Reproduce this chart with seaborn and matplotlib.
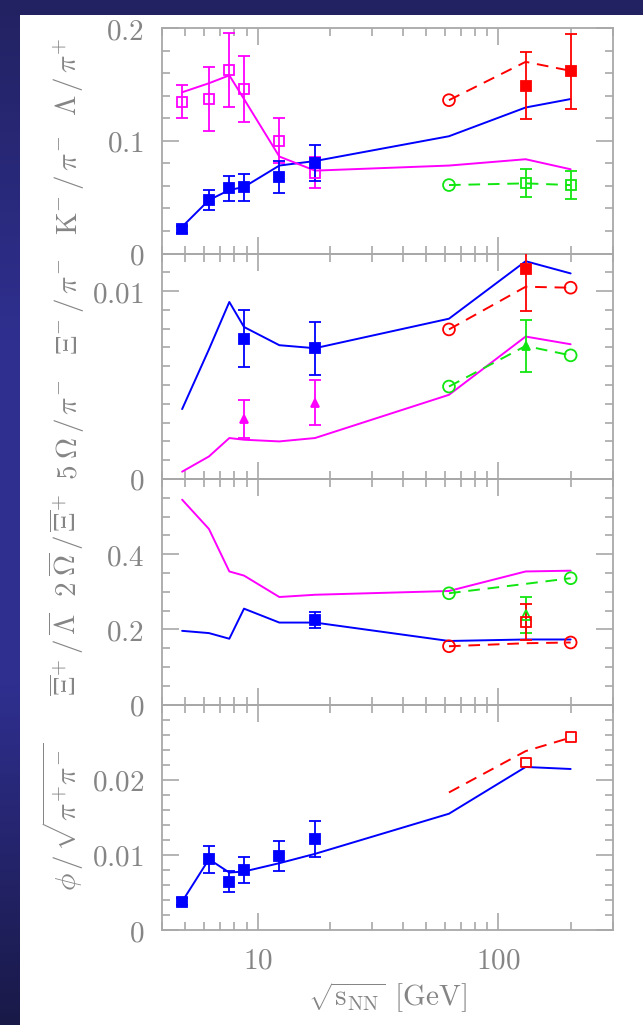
import numpy as np
import matplotlib
matplotlib.use("Agg")
import matplotlib.pyplot as plt
import seaborn as sns
from matplotlib.colors import LinearSegmentedColormap
from matplotlib.patches import Rectangle
from matplotlib.ticker import FixedLocator, FixedFormatter, LogLocator, NullFormatter, MultipleLocator

# ---------------------------------------------------------------- data
sqrt_s = [4.85, 6.27, 7.62, 8.77, 12.3, 17.3, 62.4, 130.0, 200.0]
sps = sqrt_s[:6]
rhic = sqrt_s[6:]

# panel 1: K-/pi- and Lambda/pi+
k_pi_model = [0.0237, 0.0474, 0.0563, 0.0590, 0.0780, 0.0820, 0.1040, 0.1295, 0.1370]
lam_pi_model = [0.1430, 0.1510, 0.1580, 0.1370, 0.0860, 0.0735, 0.0780, 0.0836, 0.0747]
k_pi_sps = [0.0213, 0.0474, 0.0578, 0.0587, 0.0681, 0.0806]
k_pi_sps_err = [0.0030, 0.0090, 0.0110, 0.0120, 0.0140, 0.0160]
lam_pi_sps = [0.1348, 0.1370, 0.1630, 0.1460, 0.0999, 0.0717]
lam_pi_sps_err = [0.0150, 0.0280, 0.0330, 0.0290, 0.0200, 0.0140]
lam_pi_rhic_curve = [0.136, 0.170, 0.162]
lam_pi_rhic = [0.1490, 0.1615]
lam_pi_rhic_err = [0.030, 0.033]
k_pi_rhic_curve = [0.0607, 0.0622, 0.0607]
k_pi_rhic = [0.0622, 0.0607]
k_pi_rhic_err = [0.0125, 0.0128]

# panel 2: Xi-/pi- and 5 Omega/pi-
xi_pi_model = [0.00372, 0.00690, 0.00942, 0.00809, 0.00712, 0.00696, 0.00853, 0.01159, 0.01094]
om_pi_model = [0.00039, 0.00120, 0.00218, 0.00209, 0.00200, 0.00218, 0.00448, 0.00758, 0.00717]
xi_pi_sps_x = [8.77, 17.3]
xi_pi_sps = [0.00747, 0.00696]
xi_pi_sps_err = [0.0015, 0.0014]
om_pi_sps = [0.00319, 0.00407]
om_pi_sps_err = [0.0010, 0.0012]
xi_pi_rhic_curve = [0.00796, 0.01023, 0.01018]
xi_pi_rhic = [0.01115]
xi_pi_rhic_err = [0.0022]
om_pi_rhic_curve = [0.00492, 0.00708, 0.00658]
om_pi_rhic = [0.00708]
om_pi_rhic_err = [0.0014]

# panel 3: anti-Xi/anti-Lambda and 2 anti-Omega/anti-Xi
om_xi_model = [0.545, 0.467, 0.354, 0.343, 0.286, 0.292, 0.302, 0.354, 0.356]
xi_lam_model = [0.196, 0.190, 0.175, 0.255, 0.218, 0.218, 0.169, 0.173, 0.173]
xi_lam_sps_x = [17.3]
xi_lam_sps = [0.224]
xi_lam_sps_err = [0.021]
om_xi_rhic_curve = [0.296, 0.321, 0.336]
om_xi_rhic = [0.237]
om_xi_rhic_err = [0.048]
xi_lam_rhic_curve = [0.155, 0.163, 0.165]
xi_lam_rhic = [0.219]
xi_lam_rhic_err = [0.048]

# panel 4: phi/sqrt(pi+ pi-)
phi_model = [0.00378, 0.00942, 0.00764, 0.00778, 0.00889, 0.01013, 0.01547, 0.02169, 0.02142]
phi_sps = [0.00378, 0.00942, 0.00644, 0.00800, 0.00987, 0.01210]
phi_sps_err = [0.0005, 0.0018, 0.0014, 0.0017, 0.0020, 0.0024]
phi_rhic_curve = [0.0183, 0.0238, 0.0256]
phi_rhic_x = [130.0, 200.0]
phi_rhic = [0.0223, 0.0257]

# axis ticks and labels
y_limits = [0.2, 0.012, 0.6, 0.03]
y_major = [[0, 0.1, 0.2], [0, 0.01], [0, 0.2, 0.4], [0, 0.01, 0.02]]
y_major_labels = [["0", "0.1", "0.2"], ["0", "0.01"], ["0", "0.2", "0.4"], ["0", "0.01", "0.02"]]
y_minor_step = [0.02, 0.001, 0.05, 0.002]
x_major = [10, 100]
x_major_labels = ["10", "100"]
panel_labels = [
    (r"$\mathrm{K}^{-}\,/\,\pi^{-}$", 185), (r"$\Lambda\,/\,\pi^{+}$", 77),
    (r"$\Xi^{-}\,/\,\pi^{-}$", 307), (r"$5\;\Omega\,/\,\pi^{-}$", 430),
    (r"$2\;\overline{\Omega}\,/\,\overline{\Xi}^{+}$", 545),
    (r"$\overline{\Xi}^{+}\,/\,\overline{\Lambda}$", 654),
    (r"$\phi\,/\,\sqrt{\pi^{+}\pi^{-}}$", 817),
]

# ---------------------------------------------------------------- style
sns.set_theme(style="ticks")
plt.rcParams.update({
    "mathtext.fontset": "cm",
    "font.family": ["DejaVu Serif"],
    "lines.scale_dashes": True,
})

BLUE, MAGENTA, RED, GREEN = "#0000ff", "#ff00ff", "#ff0000", "#11e611"
GREY_TXT, GREY_AX = "#858585", "#a8a8a8"
FS = 21
LW = 1.4
DASH = (0, (6, 4))

W, H = 643, 1025
fig = plt.figure(figsize=(W / 100, H / 100), dpi=100)

# slide background with a white card
bg = fig.add_axes([0, 0, 1, 1], zorder=-10)
bg.axis("off")
navy = LinearSegmentedColormap.from_list("navy", ["#191948", "#2f2f90", "#2f2f90", "#222262"])
bg.imshow(np.linspace(0, 1, 256).reshape(-1, 1), aspect="auto", cmap=navy,
          extent=[0, 1, 0, 1], origin="lower")
bg.add_patch(Rectangle((20 / W, 0), 1, 1 - 15 / H, color="white", lw=0))
bg.set_xlim(0, 1)
bg.set_ylim(0, 1)

gs = fig.add_gridspec(4, 1, left=162 / W, right=613 / W, top=1 - 28 / H, bottom=1 - 930 / H, hspace=0)
axs = gs.subplots(sharex=True)


def curve(ax, x, y, color, dashed=False):
    kw = dict(linestyle=DASH) if dashed else {}
    sns.lineplot(x=x, y=y, ax=ax, color=color, lw=LW, estimator=None, sort=False, **kw)


def points(ax, x, y, err, color, marker, filled=True, ms=7.2):
    ax.errorbar(x, y, yerr=err, fmt=marker, ms=ms, mfc=color if filled else "none",
                mec=color, mew=1.3, ecolor=color, elinewidth=1.3, capsize=4.5,
                capthick=1.3, ls="none", zorder=4)


def marks(ax, x, y, color, marker, ms=8.5):
    sns.scatterplot(x=x, y=y, ax=ax, marker=marker, s=ms ** 2, facecolor="none",
                    edgecolor=color, linewidth=1.3, zorder=4)


for ax in axs:
    ax.set_xscale("log")

# panel 1
ax = axs[0]
curve(ax, sqrt_s, k_pi_model, BLUE)
curve(ax, sqrt_s, lam_pi_model, MAGENTA)
points(ax, sps, lam_pi_sps, lam_pi_sps_err, MAGENTA, "s", filled=False, ms=6.8)
points(ax, sps, k_pi_sps, k_pi_sps_err, BLUE, "s")
curve(ax, rhic, lam_pi_rhic_curve, RED, dashed=True)
marks(ax, rhic[:1], lam_pi_rhic_curve[:1], RED, "o")
points(ax, rhic[1:], lam_pi_rhic, lam_pi_rhic_err, RED, "s")
curve(ax, rhic, k_pi_rhic_curve, GREEN, dashed=True)
marks(ax, rhic[:1], k_pi_rhic_curve[:1], GREEN, "o")
points(ax, rhic[1:], k_pi_rhic, k_pi_rhic_err, GREEN, "s", filled=False, ms=6.5)

# panel 2
ax = axs[1]
curve(ax, sqrt_s, xi_pi_model, BLUE)
curve(ax, sqrt_s, om_pi_model, MAGENTA)
points(ax, xi_pi_sps_x, xi_pi_sps, xi_pi_sps_err, BLUE, "s")
points(ax, xi_pi_sps_x, om_pi_sps, om_pi_sps_err, MAGENTA, "^", ms=6.0)
curve(ax, rhic, xi_pi_rhic_curve, RED, dashed=True)
marks(ax, [rhic[0], rhic[2]], [xi_pi_rhic_curve[0], xi_pi_rhic_curve[2]], RED, "o")
points(ax, rhic[1:2], xi_pi_rhic, xi_pi_rhic_err, RED, "s")
curve(ax, rhic, om_pi_rhic_curve, GREEN, dashed=True)
marks(ax, [rhic[0], rhic[2]], [om_pi_rhic_curve[0], om_pi_rhic_curve[2]], GREEN, "o")
points(ax, rhic[1:2], om_pi_rhic, om_pi_rhic_err, GREEN, "^", ms=6.0)

# panel 3
ax = axs[2]
curve(ax, sqrt_s, om_xi_model, MAGENTA)
curve(ax, sqrt_s, xi_lam_model, BLUE)
points(ax, xi_lam_sps_x, xi_lam_sps, xi_lam_sps_err, BLUE, "s")
curve(ax, rhic, om_xi_rhic_curve, GREEN, dashed=True)
marks(ax, [rhic[0], rhic[2]], [om_xi_rhic_curve[0], om_xi_rhic_curve[2]], GREEN, "o")
points(ax, rhic[1:2], om_xi_rhic, om_xi_rhic_err, GREEN, "^", filled=False, ms=6.5)
curve(ax, rhic, xi_lam_rhic_curve, RED, dashed=True)
marks(ax, [rhic[0], rhic[2]], [xi_lam_rhic_curve[0], xi_lam_rhic_curve[2]], RED, "o")
points(ax, rhic[1:2], xi_lam_rhic, xi_lam_rhic_err, RED, "s", filled=False, ms=6.5)

# panel 4
ax = axs[3]
curve(ax, sqrt_s, phi_model, BLUE)
points(ax, sps, phi_sps, phi_sps_err, BLUE, "s")
curve(ax, rhic, phi_rhic_curve, RED, dashed=True)
marks(ax, phi_rhic_x, phi_rhic, RED, "s", ms=7.0)

# axes cosmetics
for i, ax in enumerate(axs):
    ax.set_ylim(0, y_limits[i])
    ax.set_xlim(4, 300)
    ax.yaxis.set_major_locator(FixedLocator(y_major[i]))
    ax.yaxis.set_major_formatter(FixedFormatter([f"${t}$" for t in y_major_labels[i]]))
    ax.yaxis.set_minor_locator(MultipleLocator(y_minor_step[i]))
    ax.set_ylabel("")
    ax.set_xlabel("")
    ax.set_facecolor("none")
    for s in ax.spines.values():
        s.set_visible(True)
        s.set_color(GREY_AX)
        s.set_linewidth(1.3)
    ax.tick_params(which="both", direction="in", top=True, right=True, color=GREY_AX,
                   width=1.2, labelcolor=GREY_TXT, labelsize=FS)
    ax.tick_params(axis="y", which="both", pad=13)
    ax.tick_params(which="major", length=12)
    ax.tick_params(which="minor", length=6)

axb = axs[-1]
axb.xaxis.set_major_locator(FixedLocator(x_major))
axb.xaxis.set_major_formatter(FixedFormatter([f"${t}$" for t in x_major_labels]))
axb.xaxis.set_minor_locator(LogLocator(base=10, subs=np.arange(2, 10)))
axb.xaxis.set_minor_formatter(NullFormatter())
axb.tick_params(axis="x", which="both", pad=12)
axb.set_xlabel(r"$\sqrt{\mathrm{s}_{\mathrm{NN}}}\;\,[\mathrm{GeV}]$", fontsize=FS, color=GREY_TXT, labelpad=4)

for text, yc in panel_labels:
    fig.text(77 / W, 1 - yc / H, text, rotation=90, rotation_mode="anchor", ha="center",
             va="baseline", fontsize=FS, color=GREY_TXT)

fig.savefig("out.png", dpi=100)
